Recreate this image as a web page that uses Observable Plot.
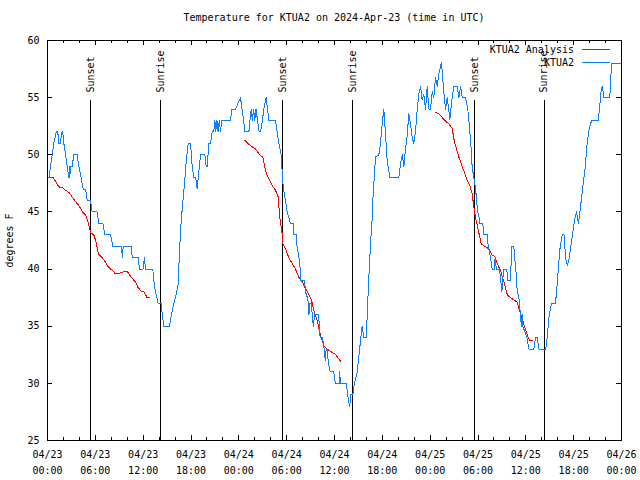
<!DOCTYPE html>
<html>
<head>
<meta charset="utf-8">
<script src="https://cdn.jsdelivr.net/npm/d3@7"></script>
<script src="https://cdn.jsdelivr.net/npm/@observablehq/plot@0.6"></script>
<style>
  body { margin: 0; background: #fff; }
  #wrap { position: relative; width: 640px; height: 480px; font-family: "DejaVu Sans Mono", monospace; }
  #title { height: 26px; box-sizing: border-box; padding-top: 13px; padding-left: 28px; line-height: 10px; font-size: 10px; text-align: center; color: #000; }
  #legend { position: absolute; left: 0; top: 0; pointer-events: none; }
</style>
</head>
<body>
<div id="wrap">
  <div id="title">Temperature for KTUA2 on 2024-Apr-23 (time in UTC)</div>
  <div id="chart"></div>
  <svg id="legend" width="640" height="80"></svg>
</div>
<script>
// ---- data (hours after 2024-04-23 00:00 UTC, temperatures in °F) ----
const obsHours = [0.0,0.17,0.38,0.59,0.79,1.1,1.3,1.38,1.6,1.8,1.9,2.05,2.26,2.47,2.67,2.75,2.8,2.89,3.1,3.3,3.72,3.93,4.22,4.47,4.77,4.98,5.39,5.6,6.23,6.44,6.94,7.19,7.9,8.2,9.28,9.4,9.5,10.54,10.62,11.37,11.54,12.0,12.15,12.29,13.21,13.33,13.55,13.88,14.26,14.4,14.59,15.3,15.55,15.85,16.06,16.39,16.55,16.75,16.95,17.15,17.4,17.6,17.73,17.94,18.15,18.35,18.6,18.77,18.98,19.19,19.74,19.9,20.03,20.24,20.45,20.66,20.85,21.0,21.1,21.25,21.4,21.55,21.7,21.85,22.33,23.0,23.05,23.58,23.9,24.21,24.4,24.6,24.75,25.26,25.4,25.55,25.7,25.85,26.0,26.15,26.35,26.55,26.72,26.95,27.14,27.43,27.6,27.76,28.6,28.81,29.02,29.31,29.48,29.6,29.85,30.06,30.48,30.8,30.9,31.2,31.3,31.55,31.7,31.75,32.25,32.36,32.6,32.75,32.8,32.9,33.1,33.2,33.35,33.5,34.0,34.2,34.5,34.7,34.85,34.95,35.1,35.2,35.45,35.9,36.1,36.6,36.65,36.75,37.5,37.65,37.9,38.05,38.3,38.5,38.85,39.26,39.47,39.68,40.01,40.1,40.31,40.52,40.73,40.85,41.02,41.14,41.56,41.77,41.98,42.19,42.4,42.61,42.94,44.07,44.28,44.49,44.7,44.91,45.12,45.32,45.53,45.75,45.95,46.16,46.37,46.58,46.79,47.0,47.2,47.42,47.63,47.83,48.04,48.26,48.46,48.67,48.88,49.09,49.42,49.71,49.92,50.14,50.47,50.76,50.97,51.39,51.6,51.81,52.02,52.43,52.72,52.97,53.15,53.27,53.48,53.6,53.77,53.95,54.1,54.2,54.6,54.73,55.15,55.28,55.57,55.78,56.05,56.15,56.3,56.7,56.85,57.0,57.1,57.24,57.6,57.74,58.1,58.2,58.49,58.6,58.75,58.92,59.1,59.25,59.33,59.45,59.55,59.65,59.9,60.17,60.37,61.0,61.21,61.45,61.63,62.26,62.5,62.68,62.9,63.22,63.72,63.9,64.06,64.3,64.56,64.8,64.98,65.2,65.45,65.75,66.1,66.36,66.6,66.85,67.15,67.45,67.65,67.9,68.24,69.08,69.3,69.49,69.6,69.78,70.53,70.75,71.9];
const obsTemps = [48,48,49,50,51,52,52,51,51,52,52,51,50,49,48,49,48,49,49,50,50,49,48,47,47,46,46,45,45,44,44,43,43,42,42,41,42,42,41,41,40,40,41,40,40,39,38,37,37,36,35,35,36,37,37.5,38.7,41.4,44,45.7,47.2,49.4,50.8,51,51,49,48,48,47,48.5,50,50,49,49,51,51,52,52,53,52,53,52,53,52,53,53,53,54,54,54.5,55,54,53,52,52,53,54,53,54,53,54,53,52,52,53,54,55,54,53,53,52,51,50,48,47,46,45,44,44,43,43,42,41,40,39,39,38,37.5,37,36,37,37,36,35,36,36,34,34,33,32,33,33,32,31,31,30,30,31,30,30,29,28,29,29,30,31,33.7,35,34,34,36,39.3,42.2,44.5,46.6,48.3,49.8,50,51,52.7,54,51.8,49.5,48,48,49.2,50,49,50.5,51.7,53.6,52.7,51.5,51,52,53.9,55.3,56,54.8,55.3,54,56,54,54,55.5,55,56.8,56,57.1,58.1,55.5,54,55,53.1,55,56,56,55,56,55,55,54,52.1,50.4,48.9,48,47.5,46.5,45,44.8,44,44,43,43,42,41,40,40,41,40,40,39,38,39,40,40,39,39,42,42,41,40,38,37.7,36.7,35.8,35,36,34.9,34.5,33.9,33,33,34,34,33,33,33,34,35.8,37,37,38.4,39.9,41.9,43,43,41,40.3,41,42.5,44.25,45,44,45.4,47.2,48.9,50.7,52.1,53,53,54.5,55.9,56,55,55,58,58];

const anaHours = [0.17,0.7,1.1,1.4,1.9,2.25,2.7,3.1,3.5,3.9,4.4,4.8,5.1,5.4,5.8,6.05,6.4,6.85,7.3,7.6,8.1,8.5,8.9,9.7,10.0,10.6,11.0,11.35,11.7,12.1,12.5,12.85,
  18,
  24.75,25.46,26.09,26.72,27.0,27.35,27.68,28.19,28.6,28.94,29.1,29.23,29.44,29.52,29.85,30.27,30.69,31.1,31.52,31.95,32.36,32.78,33.12,33.41,33.83,34.25,34.66,35.09,35.71,36.04,36.8,
  42,
  48.67,49.09,49.71,50.34,50.76,51.05,51.6,51.8,52.22,52.65,52.97,53.27,53.48,53.69,54.1,54.4,54.8,55.3,55.8,56.1,56.4,56.8,57.25,57.7,58.3,58.9,59.2,59.55,59.85,60.2,60.5,60.8];
const anaTemps = [48,48,47.6,47.2,47.1,46.9,46.7,46.3,45.9,45.6,45,44.7,44.1,43.2,43,42.5,41.3,41,40.6,40.2,39.9,39.6,39.6,39.8,39.8,39.2,38.9,38.4,38.1,38,37.5,37.5,
  null,
  51.25,50.8,50.5,49.9,49.8,48.6,48,47.3,46.9,46.3,44.8,44,43.1,42.2,41.8,41,40.5,40,39.3,38.9,38.3,37.8,37.25,36.4,35.5,34.2,33.3,33,32.7,32.6,31.9,
  null,
  53.7,53.6,53.1,52.7,52.3,51.1,49.8,49.4,48.6,47.75,47.3,46.6,45.4,44.5,43.2,42.2,42,41.8,41.2,41.1,40.5,39.9,38.9,37.7,37.4,37.1,36.4,35.65,34.9,34.2,33.75,33.75];

const sunHours  = [5.43, 14.21, 29.52, 38.31, 53.6, 62.3];
const sunLabels = ["Sunset", "Sunrise", "Sunset", "Sunrise", "Sunset", "Sunrise"];

const yTickValues = [25, 30, 35, 40, 45, 50, 55, 60];
const seriesNames = ["KTUA2 Analysis", "KTUA2"];
const seriesColors = ["#ff0000", "#0a80ff"];

// ---- build tables ----
const t0 = Date.UTC(2024, 3, 23);
const toDate = h => new Date(t0 + h * 3600e3);
const obs = obsHours.map((h, i) => ({time: toDate(h), temp: obsTemps[i]}));
const ana = anaHours.map((h, i) => ({time: toDate(h), temp: anaTemps[i]}));
const sun = sunHours.map((h, i) => ({time: toDate(h), label: sunLabels[i]}));
const xStart = toDate(0), xEnd = toDate(72);
const majorTicks = d3.utcHour.every(6).range(xStart, toDate(72.01));
const minorTicks = d3.utcHour.every(2).range(xStart, toDate(72.01)).filter(d => d.getUTCHours() % 6 !== 0);
const fmt = d3.utcFormat("%m/%d\n%H:%M");

const W = 640, H = 454, mT = 14, mB = 40, mL = 47, mR = 19;
const plotW = W - mL - mR, plotH = H - mT - mB;

const chart = Plot.plot({
  width: W, height: H,
  marginTop: mT, marginBottom: mB, marginLeft: mL, marginRight: mR,
  style: {fontFamily: "DejaVu Sans Mono, monospace", fontSize: "10px", background: "#fff", color: "#000"},
  x: {type: "utc", domain: [xStart, xEnd], axis: null},
  y: {domain: [25, 60], axis: null},
  marks: [
    Plot.axisY({ticks: yTickValues, tickSize: 0, tickPadding: 8, label: "degrees F", labelAnchor: "center", labelOffset: 42, labelArrow: "none"}),
    Plot.axisX({ticks: majorTicks, tickFormat: fmt, tickSize: 0, tickPadding: 6, lineHeight: 1.6, label: null}),
    // tick marks drawn inward on all four sides
    Plot.tickX(majorTicks, {x: d => d, insetTop: plotH - 5, stroke: "black", shapeRendering: "crispEdges"}),
    Plot.tickX(majorTicks, {x: d => d, insetBottom: plotH - 5, stroke: "black", shapeRendering: "crispEdges"}),
    Plot.tickX(minorTicks, {x: d => d, insetTop: plotH - 3, stroke: "black", shapeRendering: "crispEdges"}),
    Plot.tickX(minorTicks, {x: d => d, insetBottom: plotH - 3, stroke: "black", shapeRendering: "crispEdges"}),
    Plot.tickY(yTickValues, {y: d => d, insetRight: plotW - 5, stroke: "black", shapeRendering: "crispEdges"}),
    Plot.tickY(yTickValues, {y: d => d, insetLeft: plotW - 5, stroke: "black", shapeRendering: "crispEdges"}),
    // sunrise / sunset
    Plot.ruleX(sun, {x: "time", insetTop: 60, stroke: "black", strokeWidth: 1, shapeRendering: "crispEdges"}),
    Plot.text(sun, {x: "time", text: "label", frameAnchor: "top", rotate: -90, textAnchor: "start", lineAnchor: "middle", dy: 52, fill: "black"}),
    // series
    Plot.line(ana, {x: "time", y: "temp", stroke: seriesColors[0], strokeWidth: 1, shapeRendering: "crispEdges"}),
    Plot.line(obs, {x: "time", y: "temp", stroke: seriesColors[1], strokeWidth: 1, shapeRendering: "crispEdges"}),
    Plot.frame({stroke: "black", strokeWidth: 1, shapeRendering: "crispEdges"})
  ]
});
document.getElementById("chart").appendChild(chart);

// ---- legend (top-right, inside the frame) ----
const lg = d3.select("#legend");
seriesNames.forEach((name, i) => {
  const y = 49.5 + i * 13;
  lg.append("text").attr("x", 574).attr("y", y).attr("text-anchor", "end")
    .attr("dominant-baseline", "central").attr("font-family", "DejaVu Sans Mono, monospace")
    .attr("font-size", 10).attr("fill", "#000").text(name);
  lg.append("line").attr("x1", 582).attr("x2", 610).attr("y1", y).attr("y2", y)
    .attr("stroke", seriesColors[i]).attr("stroke-width", 1).attr("shape-rendering", "crispEdges");
});
</script>
</body>
</html>
